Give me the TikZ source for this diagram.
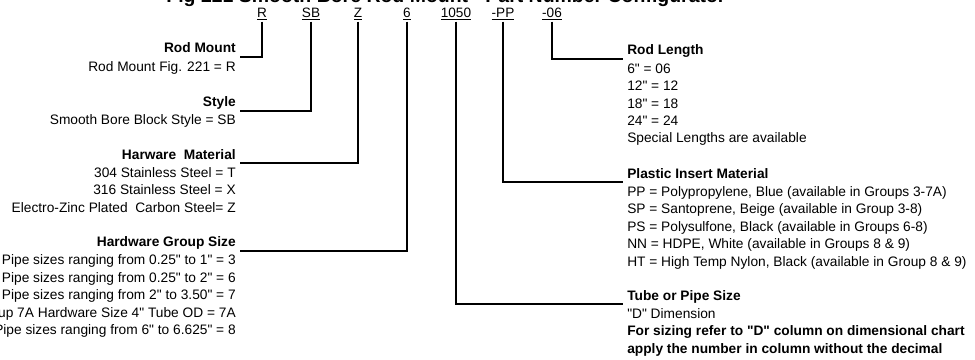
\documentclass[tikz,border=0pt]{standalone}
\usepackage{fontspec}
\newfontfamily\partfont{Liberation Sans}
\usetikzlibrary{positioning}

\begin{document}
\begin{tikzpicture}[
    x=0.75pt, y=-0.75pt,
    code/.style={font=\partfont\fontsize{10.2}{12}\selectfont,inner sep=1pt},
    head/.style={font=\partfont\fontsize{10.3}{13}\selectfont\bfseries,inner sep=0pt,text depth=0pt},
    entry/.style={font=\partfont\fontsize{10.3}{13.1}\selectfont,inner sep=0pt},
    link/.style={line width=1.4pt}
]
\useasboundingbox (0,0) rectangle (975,360);
\node[font=\partfont\fontsize{14.6}{16}\selectfont\bfseries,anchor=base] (title) at (446,3) {Fig 221 Smooth Bore Rod Mount - Part Number Configurator};

% part number fields
\node[code] (cR)    at (262,14) {\underline{R}};
\node[code] (cSB)   at (311,14) {\underline{SB}};
\node[code] (cZ)    at (358,14) {\underline{Z}};
\node[code] (cSix)  at (407,14) {\underline{6}};
\node[code] (cTube) at (456,14) {\underline{1050}};
\node[code] (cPP)   at (503,14) {\underline{-PP}};
\node[code] (cLen)  at (552,14) {\underline{-06}};

% left column
\node[head,anchor=base east] (hMount) at (236,53) {Rod Mount};
\node[entry,align=right,below=6pt of hMount.south east,anchor=north east] (lMount) {Rod Mount Fig. 221 = R};
\node[head,anchor=base east] (hStyle) at (236,106.5) {Style};
\node[entry,align=right,below=6pt of hStyle.south east,anchor=north east] (lStyle) {Smooth Bore Block Style = SB};
\node[head,anchor=base east] (hMat) at (236,159) {Harware\ \ Material};
\node[entry,align=right,below=6pt of hMat.south east,anchor=north east] (lMat) {304 Stainless Steel = T\\316 Stainless Steel = X\\Electro-Zinc Plated\ \ Carbon Steel= Z};
\node[head,anchor=base east] (hGroup) at (236,246.5) {Hardware Group Size};
\node[entry,align=right,below=6pt of hGroup.south east,anchor=north east] (lGroup) {Pipe sizes ranging from 0.25" to 1" = 3\\Pipe sizes ranging from 0.25" to 2" = 6\\Pipe sizes ranging from 2" to 3.50" = 7\\Group 7A Hardware Size 4" Tube OD = 7A\\Pipe sizes ranging from 6" to 6.625" = 8};

% right column
\node[head,anchor=base west] (hLen) at (627,55) {Rod Length};
\node[entry,align=left,below=6pt of hLen.south west,anchor=north west] (lLen) {6" = 06\\12" = 12\\18" = 18\\24" = 24\\Special Lengths are available};
\node[head,anchor=base west] (hInsert) at (627,178) {Plastic Insert Material};
\node[entry,align=left,below=6pt of hInsert.south west,anchor=north west] (lInsert) {PP = Polypropylene, Blue (available in Groups 3-7A)\\SP = Santoprene, Beige (available in Group 3-8)\\PS = Polysulfone, Black (available in Groups 6-8)\\NN = HDPE, White (available in Groups 8 \& 9)\\HT = High Temp Nylon, Black (available in Group 8 \& 9)};
\node[head,anchor=base west] (hTube) at (627,300) {Tube or Pipe Size};
\node[entry,align=left,below=6pt of hTube.south west,anchor=north west] (lTube) {"D" Dimension\\\textbf{For sizing refer to "D" column on dimensional chart}\\\textbf{apply the number in column without the decimal}};

% leaders
\draw[link] (cR.south)    |- ([shift={(3pt,-3pt)}]hMount.south east);
\draw[link] (cSB.south)   |- ([shift={(3pt,-3pt)}]hStyle.south east);
\draw[link] (cZ.south)    |- ([shift={(3pt,-3pt)}]hMat.south east);
\draw[link] (cSix.south)  |- ([shift={(3pt,-3pt)}]hGroup.south east);
\draw[link] (cTube.south) |- ([shift={(-3pt,-3pt)}]hTube.south west);
\draw[link] (cPP.south)   |- ([shift={(-3pt,-3pt)}]hInsert.south west);
\draw[link] (cLen.south)  |- ([shift={(-3pt,-3pt)}]hLen.south west);
\end{tikzpicture}
\end{document}
